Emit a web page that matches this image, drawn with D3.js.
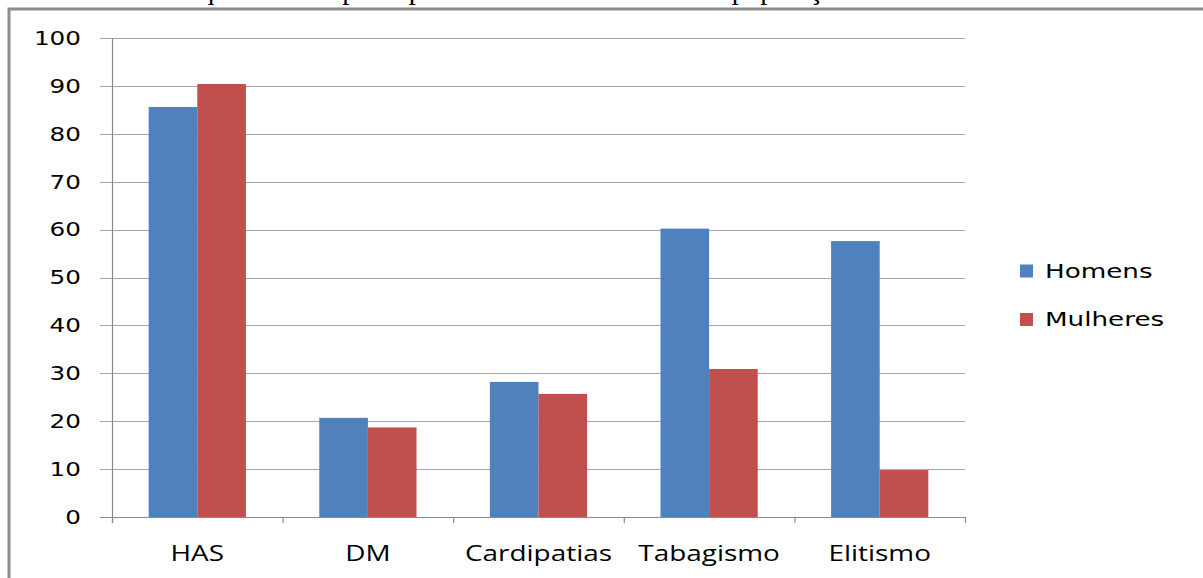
<!DOCTYPE html>
<html>
<head>
<meta charset="utf-8">
<script src="https://cdn.jsdelivr.net/npm/d3@7"></script>
<style>
  body { margin: 0; background: #fff; }
</style>
</head>
<body>
<div class="container"></div>
<script>
// data
const categories = ["HAS", "DM", "Cardipatias", "Tabagismo", "Elitismo"];
const series = ["Homens", "Mulheres"];
const homens = [85.6, 20.7, 28.2, 60.2, 57.6];
const mulheres = [90.4, 18.7, 25.7, 30.9, 9.8];
const yTicks = [0, 10, 20, 30, 40, 50, 60, 70, 80, 90, 100];
const colors = ["#4f81bd", "#c0504d"];
const title = "Gráfico 1 – Frequência dos principais fatores de risco sobre a população local";

const width = 1203;
const height = 578;
const margin = { top: 38, bottom: 61, left: 112, right: 238 };

const svg = d3.select(".container")
  .append("svg")
  .attr("width", width)
  .attr("height", height)
  .style("display", "block");

// title line, cut off at the top of the picture (only descenders show)
svg.append("text")
  .attr("x", 25)
  .attr("y", -1)
  .attr("font-family", "Liberation Serif")
  .attr("font-size", "28.5px")
  .attr("fill", "#000")
  .text(title);

// chart frame (only top and left edges show)
svg.append("path")
  .attr("d", `M9,${height} V9 H${width}`)
  .attr("fill", "none")
  .attr("stroke", "#8c8c8c")
  .attr("stroke-width", 3);

const yScale = d3.scaleLinear()
  .domain([0, 100])
  .range([height - margin.bottom, margin.top]);

const xScale = d3.scaleBand()
  .domain(categories)
  .range([margin.left, width - margin.right])
  .paddingInner(0.43)
  .paddingOuter(0.215);

const xSub = d3.scaleBand()
  .domain(series)
  .range([0, xScale.bandwidth()]);

// gridlines with little ticks on the left
svg.append("g")
  .selectAll("line")
  .data(yTicks)
  .join("line")
  .attr("x1", margin.left - 12)
  .attr("x2", width - margin.right)
  .attr("y1", d => Math.round(yScale(d)) + 0.5)
  .attr("y2", d => Math.round(yScale(d)) + 0.5)
  .attr("stroke", d => d === 0 ? "#8a8a8a" : "#a6a6a6")
  .attr("stroke-width", 1.2);

// y axis line
svg.append("line")
  .attr("x1", margin.left + 0.5)
  .attr("x2", margin.left + 0.5)
  .attr("y1", yScale(100))
  .attr("y2", yScale(0) + 6)
  .attr("stroke", "#8a8a8a")
  .attr("stroke-width", 1.2);

// y labels
svg.append("g")
  .selectAll("text")
  .data(yTicks)
  .join("text")
  .attr("transform", d => `translate(81, ${yScale(d)}) scale(1.3, 1)`)
  .attr("text-anchor", "end")
  .attr("dy", "0.36em")
  .attr("font-family", "DejaVu Sans")
  .attr("font-size", "19px")
  .attr("fill", "#000")
  .text(d => d);

// category separators on the x axis
const step = xScale.step();
svg.append("g")
  .selectAll("line")
  .data(d3.range(categories.length + 1))
  .join("line")
  .attr("x1", i => margin.left + i * step + 0.5)
  .attr("x2", i => margin.left + i * step + 0.5)
  .attr("y1", yScale(0))
  .attr("y2", yScale(0) + 6)
  .attr("stroke", "#8a8a8a")
  .attr("stroke-width", 1.2);

// bars
const rows = categories.map((c, i) => ({ cat: c, vals: [homens[i], mulheres[i]] }));

svg.append("g")
  .selectAll("g")
  .data(rows)
  .join("g")
  .attr("transform", d => `translate(${xScale(d.cat)}, 0)`)
  .selectAll("rect")
  .data(d => d.vals.map((v, j) => ({ key: series[j], v: v, j: j })))
  .join("rect")
  .attr("x", d => xSub(d.key))
  .attr("width", xSub.bandwidth())
  .attr("y", d => yScale(d.v))
  .attr("height", d => yScale(0) - yScale(d.v))
  .attr("fill", d => colors[d.j]);

// category labels
svg.append("g")
  .selectAll("text")
  .data(categories)
  .join("text")
  .attr("transform", d => `translate(${xScale(d) + xScale.bandwidth() / 2}, 561) scale(1.33, 1)`)
  .attr("text-anchor", "middle")
  .attr("font-family", "Open Sans")
  .attr("font-size", "21px")
  .attr("fill", "#000")
  .text(d => d);

// legend
const legend = svg.append("g")
  .selectAll("g")
  .data(series)
  .join("g")
  .attr("transform", (d, i) => `translate(1020, ${271 + i * 48.5})`);

legend.append("rect")
  .attr("x", 0)
  .attr("y", -6.5)
  .attr("width", 13)
  .attr("height", 13)
  .attr("fill", (d, i) => colors[i]);

legend.append("text")
  .attr("transform", "translate(25, 0) scale(1.38, 1)")
  .attr("dy", "0.36em")
  .attr("font-family", "DejaVu Sans")
  .attr("font-size", "19px")
  .attr("fill", "#000")
  .text(d => d);
</script>
</body>
</html>
